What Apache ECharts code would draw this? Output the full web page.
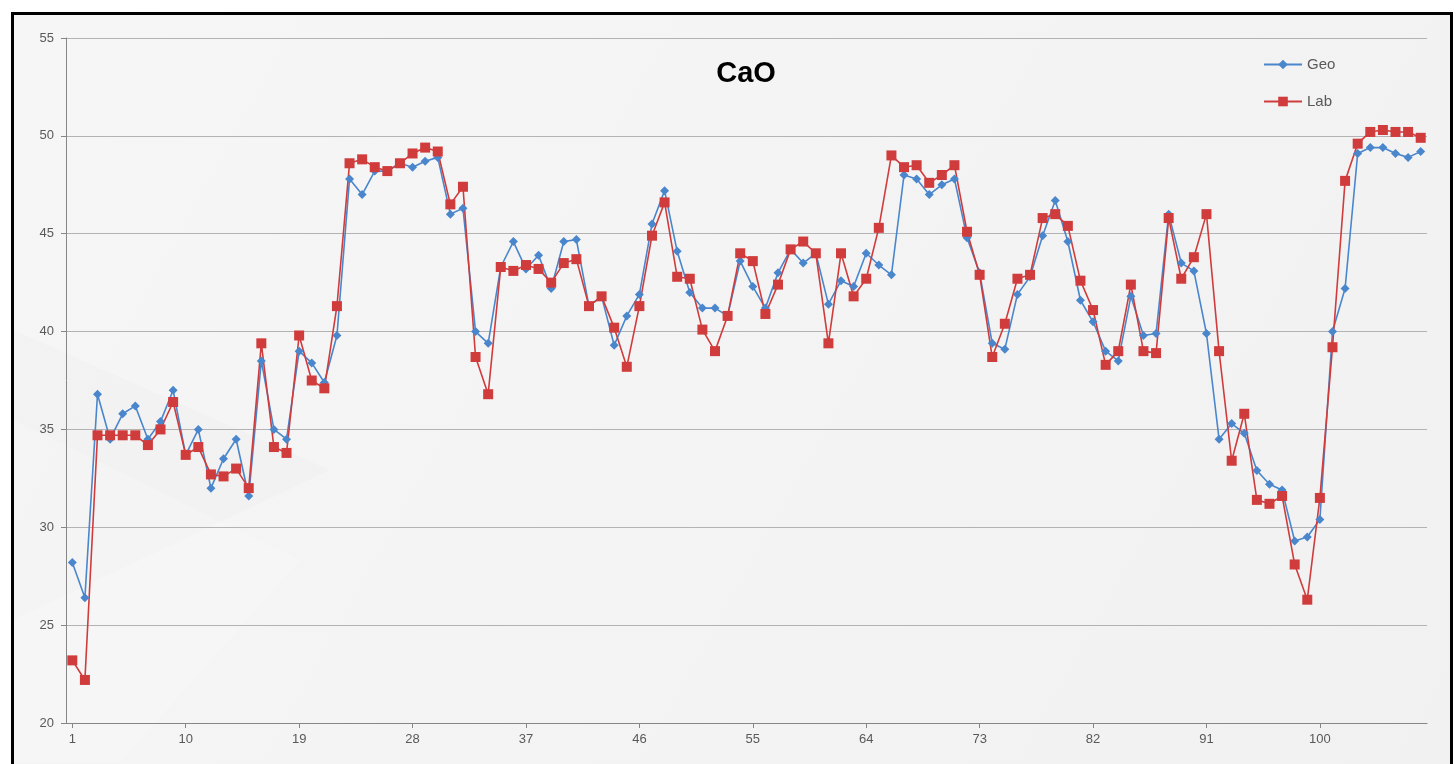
<!DOCTYPE html>
<html>
<head>
<meta charset="utf-8">
<title>CaO</title>
<script src="https://cdn.jsdelivr.net/npm/echarts@6/dist/echarts.min.js"></script>
<style>
  html, body { margin: 0; padding: 0; background: #ffffff; }
  #chart { width: 1456px; height: 764px; }
</style>
</head>
<body>
<div id="chart"></div>
<script>
  // sample numbers along the x axis
  var categories = [];
  for (var i = 1; i <= 108; i++) {
    categories.push(String(i));
  }

  var geoValues = [
    28.2, 26.4, 36.8, 34.5, 35.8, 36.2, 34.5, 35.4, 37.0, 33.7,
    35.0, 32.0, 33.5, 34.5, 31.6, 38.5, 35.0, 34.5, 39.0, 38.4,
    37.4, 39.8, 47.8, 47.0, 48.2, 48.2, 48.6, 48.4, 48.7, 48.9,
    46.0, 46.3, 40.0, 39.4, 43.3, 44.6, 43.2, 43.9, 42.2, 44.6,
    44.7, 41.3, 41.8, 39.3, 40.8, 41.9, 45.5, 47.2, 44.1, 42.0,
    41.2, 41.2, 40.8, 43.6, 42.3, 41.2, 43.0, 44.2, 43.5, 44.0,
    41.4, 42.6, 42.3, 44.0, 43.4, 42.9, 48.0, 47.8, 47.0, 47.5,
    47.8, 44.8, 43.0, 39.4, 39.1, 41.9, 42.8, 44.9, 46.7, 44.6,
    41.6, 40.5, 39.0, 38.5, 41.8, 39.8, 39.9, 46.0, 43.5, 43.1,
    39.9, 34.5, 35.3, 34.8, 32.9, 32.2, 31.9, 29.3, 29.5, 30.4,
    40.0, 42.2, 49.1, 49.4, 49.4, 49.1, 48.9, 49.2
  ];

  var labValues = [
    23.2, 22.2, 34.7, 34.7, 34.7, 34.7, 34.2, 35.0, 36.4, 33.7,
    34.1, 32.7, 32.6, 33.0, 32.0, 39.4, 34.1, 33.8, 39.8, 37.5,
    37.1, 41.3, 48.6, 48.8, 48.4, 48.2, 48.6, 49.1, 49.4, 49.2,
    46.5, 47.4, 38.7, 36.8, 43.3, 43.1, 43.4, 43.2, 42.5, 43.5,
    43.7, 41.3, 41.8, 40.2, 38.2, 41.3, 44.9, 46.6, 42.8, 42.7,
    40.1, 39.0, 40.8, 44.0, 43.6, 40.9, 42.4, 44.2, 44.6, 44.0,
    39.4, 44.0, 41.8, 42.7, 45.3, 49.0, 48.4, 48.5, 47.6, 48.0,
    48.5, 45.1, 42.9, 38.7, 40.4, 42.7, 42.9, 45.8, 46.0, 45.4,
    42.6, 41.1, 38.3, 39.0, 42.4, 39.0, 38.9, 45.8, 42.7, 43.8,
    46.0, 39.0, 33.4, 35.8, 31.4, 31.2, 31.6, 28.1, 26.3, 31.5,
    39.2, 47.7, 49.6, 50.2, 50.3, 50.2, 50.2, 49.9
  ];

  var yMin = 20;
  var yMax = 55;
  var yStep = 5;

  var chart = echarts.init(document.getElementById('chart'));

  chart.setOption({
    animation: false,
    textStyle: {
      fontFamily: 'Liberation Sans, Arial, sans-serif',
    },
    graphic: [
      {
        type: 'rect',
        z: -10,
        shape: { x: 12.5, y: 13.5, width: 1439, height: 800 },
        style: {
          fill: new echarts.graphic.LinearGradient(0, 0, 1, 1, [
            { offset: 0, color: '#f6f6f6' },
            { offset: 1, color: '#f1f1f1' },
          ]),
          stroke: '#000000',
          lineWidth: 3,
        },
      },
      {
        // faint background shapes
        type: 'polygon',
        z: -9,
        shape: { points: [[14, 330], [330, 470], [14, 620]] },
        style: { fill: 'rgba(0,0,0,0.012)' },
      },
      {
        type: 'polygon',
        z: -9,
        shape: { points: [[14, 420], [300, 560], [120, 762], [14, 762]] },
        style: { fill: 'rgba(255,255,255,0.18)' },
      },
    ],
    title: {
      text: 'CaO',
      left: 741,
      top: 54,
      textAlign: 'center',
      textStyle: {
        fontSize: 29,
        fontWeight: 'bold',
        color: '#000000',
      },
    },
    legend: {
      orient: 'vertical',
      left: 1258,
      top: 52,
      itemWidth: 38,
      itemHeight: 12,
      itemGap: 22,
      textStyle: {
        fontSize: 15,
        color: '#595959',
      },
      data: ['Geo', 'Lab'],
    },
    grid: {
      left: 66,
      right: 29,
      top: 38,
      bottom: 41,
      containLabel: false,
    },
    xAxis: {
      type: 'category',
      data: categories,
      boundaryGap: true,
      axisLine: {
        lineStyle: { color: '#868686', width: 1 },
      },
      axisTick: {
        show: true,
        interval: 8,
        alignWithLabel: true,
        length: 5,
        lineStyle: { color: '#868686' },
      },
      axisLabel: {
        interval: 8,
        fontSize: 13,
        color: '#595959',
        margin: 10,
      },
      splitLine: { show: false },
    },
    yAxis: {
      type: 'value',
      min: yMin,
      max: yMax,
      interval: yStep,
      axisLine: {
        show: true,
        lineStyle: { color: '#868686', width: 1 },
      },
      axisTick: {
        show: true,
        length: 5,
        lineStyle: { color: '#868686' },
      },
      axisLabel: {
        fontSize: 13,
        color: '#595959',
        margin: 12,
      },
      splitLine: {
        show: true,
        lineStyle: { color: '#b3b3b3', width: 1.2 },
      },
    },
    series: [
      {
        name: 'Geo',
        type: 'line',
        data: geoValues,
        symbol: 'diamond',
        symbolSize: 9,
        showAllSymbol: true,
        itemStyle: { color: '#4a86cc' },
        lineStyle: { color: '#4a86cc', width: 1.6 },
      },
      {
        name: 'Lab',
        type: 'line',
        data: labValues,
        symbol: 'rect',
        symbolSize: 10,
        showAllSymbol: true,
        itemStyle: { color: '#d03b3c' },
        lineStyle: { color: '#d03b3c', width: 1.6 },
      },
    ],
  });
</script>
</body>
</html>
